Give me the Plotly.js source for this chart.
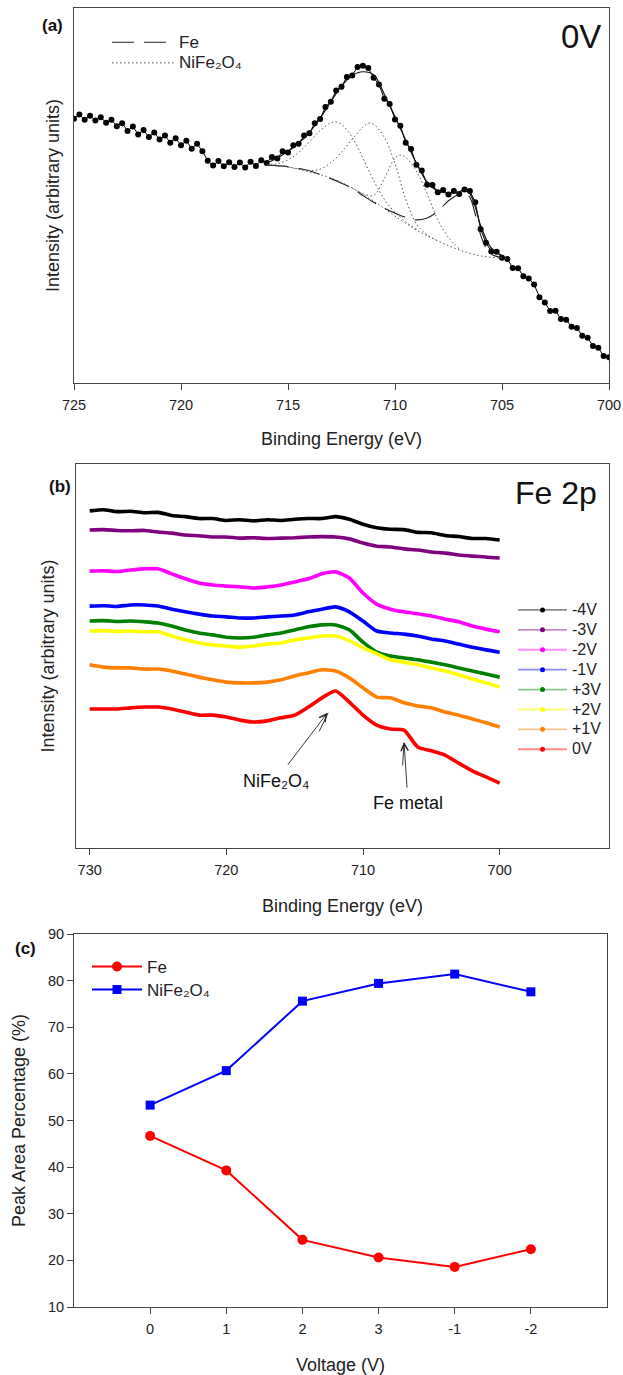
<!DOCTYPE html>
<html><head><meta charset="utf-8">
<script src="https://cdn.plot.ly/plotly-3.0.1.min.js"></script>
<style>html,body{margin:0;padding:0;background:#fff}#chart{width:623px;height:1375px}</style>
</head><body><div id="chart"></div>
<script>
// ---------- Panel (a): Fe 2p at 0V with peak fitting ----------
const energyA = [725,724.75,724.5,724.25,724,723.75,723.5,723.25,723,722.75,722.5,722.25,722,721.75,721.5,721.25,721,720.75,720.5,720.25,720,719.75,719.5,719.25,719,718.75,718.5,718.25,718,717.75,717.5,717.25,717,716.75,716.5,716.25,716,715.75,715.5,715.25,715,714.75,714.5,714.25,714,713.75,713.5,713.25,713,712.75,712.5,712.25,712,711.75,711.5,711.25,711,710.75,710.5,710.25,710,709.75,709.5,709.25,709,708.75,708.5,708.25,708,707.75,707.5,707.25,707,706.75,706.5,706.25,706,705.75,705.5,705.25,705,704.75,704.5,704.25,704,703.75,703.5,703.25,703,702.75,702.5,702.25,702,701.75,701.5,701.25,701,700.75,700.5,700.25,700];
const intensityA = [70.5,71.6,70.2,71.3,70.0,70.9,69.4,70.2,68.5,69.3,
  67.2,68.4,66.3,67.5,65.6,66.8,64.9,66.0,64.1,65.3,
  63.4,64.6,62.5,63.8,61.8,59.3,58.0,59.2,57.8,58.9,
  57.6,58.8,57.5,59.0,57.9,59.4,58.7,60.3,59.9,61.8,
  61.5,63.4,63.8,66.0,66.6,69.3,70.4,73.6,75.0,78.0,
  79.0,81.6,82.0,84.3,84.6,84.0,81.4,79.6,75.8,74.4,
  70.3,68.6,64.1,62.4,58.2,56.7,52.9,52.8,50.9,51.5,
  50.3,51.2,50.4,51.6,51.2,48.2,41.0,37.4,35.1,35.0,
  33.4,33.1,30.7,30.6,28.5,27.9,26.3,22.9,21.5,19.2,
  19.3,17.1,16.9,15.0,14.7,12.6,12.1,9.9,9.4,7.2,
  6.9];
const fitEnergy = [716,715.5,715,714.5,714,713.5,713,712.5,712,711.5,711,710.5,710,709.5,709,708.5,708,707.5,707,706.75,706.5,706.25,706,705.5,705];
const fitEnvelope = [58.7,60.0,61.8,64.0,66.8,70.6,75.0,79.2,82.0,83.0,82.2,77.0,71.0,64.8,58.6,53.6,51.2,50.6,51.0,51.6,50.5,47.0,42.0,36.0,34.0];
const feEnergy = [716,715,714,713,712.5,712,711.5,711,710.5,710,709.5,709,708.5,708,707.5,707,706.75,706.5,706.25,706,705.75,705.5,705];
const feComponent = [58.1,57.7,56.6,54.5,53.3,51.9,50.0,48.2,46.6,45.3,44.2,43.5,44.0,45.8,48.6,50.4,50.8,49.5,45.0,39.5,36.0,34.3,33.4];
const bgEnergy = [716,715,714,713,712,711,710,709,708,707,706,705,704.5];
const background = [58.1,57.6,56.3,54.7,52.0,48.5,44.5,40.8,37.9,35.5,33.9,33.3,33.2];
const niEnergy1 = [716,715.5,715,714.5,714,713.5,713,712.75,712.5,712,711.5,711,710.5,710,709.5,709];
const niPeak1 = [58.1,58.5,59.5,61.5,64.3,67.3,69.4,69.6,69.0,65.5,60.0,54.0,49.0,45.5,43.0,41.0];
const niEnergy2 = [715,714.5,714,713.5,713,712.5,712,711.5,711.25,711,710.5,710,709.5,709,708.5,708];
const niPeak2 = [57.6,57.1,56.7,57.0,58.8,61.5,65.0,68.2,69.3,69.0,65.5,58.5,49.0,42.5,39.5,37.9];
const niEnergy3 = [712,711.5,711,710.5,710,709.75,709.5,709,708.5,708,707.5,707];
const niPeak3 = [52.0,50.5,50.0,54.5,60.0,60.8,60.2,56.5,50.5,43.5,38.8,35.8];
const tickValsA = [725,720,715,710,705,700];

// ---------- Panel (b): Fe 2p spectra vs voltage ----------
const energyB = [730,729,728,727,726,725,724,723,722,721,720,719,718,717,716,715,714,713,712,711,710,709,708,707,706,705,704,703,702,701,700];
const seriesNamesB = ['-4V','-3V','-2V','-1V','+3V','+2V','+1V','0V'];
const intensityM4V = [87.8,88.1,87.6,87.7,87.3,87.4,86.6,86.3,85.8,85.8,85.3,85.5,85.2,85.5,85.3,85.6,85.8,85.8,86.3,85.6,84.3,83.4,83.0,82.9,82.2,82.1,81.4,81.1,80.6,80.6,80.2];
const intensityM3V = [82.8,82.9,82.7,82.6,82.7,82.3,82.0,81.5,81.3,81.0,81.0,80.7,80.8,80.6,80.7,80.8,81.0,81.1,81.0,80.5,79.4,78.6,78.4,77.9,77.6,77.1,76.8,76.3,76.0,75.8,75.5];
const intensityM2V = [72.1,72.2,72.0,72.4,72.7,72.7,71.4,70.1,69.0,68.5,68.2,68.0,67.7,68.0,68.5,69.3,70.1,71.4,71.9,70.3,66.4,63.5,62.2,61.5,61.0,60.4,59.6,58.9,57.8,57.0,56.3];
const intensityM1V = [63.0,63.1,62.9,63.3,63.3,63.0,62.2,61.5,60.9,60.4,60.2,59.9,59.9,60.2,60.4,60.7,61.5,62.2,62.8,61.5,59.1,56.5,56.0,55.7,55.2,54.4,53.9,53.1,52.3,51.6,51.0];
const intensityP3V = [59.1,59.2,59.0,59.1,58.9,58.6,57.8,56.8,56.0,55.5,54.9,54.7,54.9,55.5,56.0,56.8,57.6,58.1,58.1,56.8,53.6,51.0,50.0,49.5,49.0,48.4,47.7,46.9,46.1,45.3,44.5];
const intensityP2V = [56.5,56.6,56.4,56.5,56.3,56.3,55.2,54.2,53.4,52.9,52.6,52.3,52.6,53.1,53.4,54.2,54.7,55.2,55.2,54.0,52.1,50.6,49.0,48.4,47.7,46.9,46.1,45.1,44.0,43.0,41.9];
const intensityP1V = [47.7,47.1,46.9,46.9,46.6,46.6,46.1,45.3,44.5,43.8,43.2,43.0,43.0,43.2,43.8,44.8,45.6,46.4,46.1,44.3,41.7,39.3,39.1,37.8,37.0,36.5,35.4,34.6,33.6,32.6,31.5];
const intensity0V = [36.2,36.2,36.2,36.5,36.7,36.7,36.2,35.4,34.6,34.6,34.1,33.3,32.8,33.1,33.9,34.6,36.7,39.1,40.9,38.0,34.6,32.0,31.0,30.7,26.3,25.3,24.2,22.1,20.1,18.5,16.9];
const tickValsB = [730,720,710,700];

// ---------- Panel (c): peak area percentage ----------
const voltageLabels = ['0','1','2','3','-1','-2'];
const feArea = [46.7,39.3,24.4,20.6,18.6,22.4];
const nife2o4Area = [53.3,60.7,75.6,79.4,81.4,77.6];

// ---------- styling ----------
const FONT = 'Liberation Sans, Arial, sans-serif';
const AX = '#444';
const W = 623, H = 1375;
const px = v => v / W;
const py = v => 1 - v / H;
const big = (t, s) => '<span style="font-size:' + s + 'px">' + t + '</span>';
const NIFE = 'NiFe\u2082O\u2084';

const seriesB = [intensityM4V, intensityM3V, intensityM2V, intensityM1V, intensityP3V, intensityP2V, intensityP1V, intensity0V];
const colorsB = ['#000000','#800080','#ff00ff','#0000ff','#008000','#ffff00','#ff8000','#ff0000'];
const paleB = ['rgba(0,0,0,0.45)','rgba(128,0,128,0.45)','rgba(255,0,255,0.45)','rgba(0,0,255,0.45)','rgba(0,128,0,0.45)','rgba(255,255,0,0.6)','rgba(255,128,0,0.45)','rgba(255,0,0,0.45)'];

const traces = [];
// (a)
traces.push({x: energyA, y: intensityA, xaxis:'x', yaxis:'y', mode:'lines+markers', showlegend:false,
  line:{color:'#000', width:1}, marker:{color:'#000', size:6}, hoverinfo:'skip'});
traces.push({x: fitEnergy, y: fitEnvelope, xaxis:'x', yaxis:'y', mode:'lines', showlegend:false,
  line:{color:'#111', width:1.2, shape:'spline'}});
traces.push({x: feEnergy, y: feComponent, xaxis:'x', yaxis:'y', mode:'lines', name:big('Fe',17), legend:'legend',
  line:{color:'#222', width:1.1, dash:'22px,10px', shape:'spline'}});
traces.push({x: niEnergy1, y: niPeak1, xaxis:'x', yaxis:'y', mode:'lines', name:big(NIFE,17), legend:'legend', legendgroup:'ni',
  line:{color:'#555', width:1, dash:'1.5px,2.5px', shape:'spline'}});
traces.push({x: niEnergy2, y: niPeak2, xaxis:'x', yaxis:'y', mode:'lines', showlegend:false, legendgroup:'ni',
  line:{color:'#555', width:1, dash:'1.5px,2.5px', shape:'spline'}});
traces.push({x: niEnergy3, y: niPeak3, xaxis:'x', yaxis:'y', mode:'lines', showlegend:false, legendgroup:'ni',
  line:{color:'#555', width:1, dash:'1.5px,2.5px', shape:'spline'}});
traces.push({x: bgEnergy, y: background, xaxis:'x', yaxis:'y', mode:'lines', showlegend:false, legendgroup:'ni',
  line:{color:'#555', width:1, dash:'1.5px,2.5px', shape:'spline'}});
// (b)
seriesB.forEach((s, i) => {
  traces.push({x: energyB, y: s, xaxis:'x2', yaxis:'y2', mode:'lines', showlegend:false,
    line:{color: colorsB[i], width:3.6, shape:'spline', smoothing:0.6}});
});
seriesNamesB.forEach((n, i) => {
  traces.push({x:[null], y:[null], xaxis:'x2', yaxis:'y2', mode:'lines+markers', name:big(n,16), legend:'legend2',
    line:{color: paleB[i], width:1.8}, marker:{color: colorsB[i], size:5}});
});
// (c)
traces.push({x: voltageLabels, y: feArea, xaxis:'x3', yaxis:'y3', mode:'lines+markers', name:big('Fe',17), legend:'legend3',
  line:{color:'#ff0000', width:2}, marker:{color:'#ff0000', size:10, symbol:'circle'}});
traces.push({x: voltageLabels, y: nife2o4Area, xaxis:'x3', yaxis:'y3', mode:'lines+markers', name:big(NIFE,17), legend:'legend3',
  line:{color:'#0000ff', width:2}, marker:{color:'#0000ff', size:9, symbol:'square'}});

const axBase = {showline:true, linecolor:AX, linewidth:1, mirror:true, showgrid:false, zeroline:false};
const layout = {
  width: W, height: H, margin:{l:0, r:0, t:0, b:0},
  paper_bgcolor:'#fff', plot_bgcolor:'#fff',
  font:{family:FONT, size:14, color:'#222'},
  xaxis: Object.assign({}, axBase, {domain:[px(74), px(609)], anchor:'y', range:[725,700], tickvals:tickValsA,
    ticks:'outside', ticklen:6, tickcolor:AX, tickfont:{size:14.5}, ticklabelstandoff:3,
    title:{text:'Binding Energy (eV)', font:{size:18}, standoff:19}}),
  yaxis: Object.assign({}, axBase, {domain:[py(383), py(8)], anchor:'x', range:[0,100], showticklabels:false, ticks:'',
    title:{text:'Intensity (arbitrary units)', font:{size:18}, standoff:8}}),
  xaxis2: Object.assign({}, axBase, {domain:[px(76), px(609)], anchor:'y2', range:[731,692], tickvals:tickValsB,
    ticks:'outside', ticklen:6, tickcolor:AX, tickfont:{size:14.5}, ticklabelstandoff:3,
    title:{text:'Binding Energy (eV)', font:{size:18}, standoff:21}}),
  yaxis2: Object.assign({}, axBase, {domain:[py(848), py(464)], anchor:'x2', range:[0,100], showticklabels:false, ticks:'',
    title:{text:'Intensity (arbitrary units)', font:{size:18}, standoff:15}}),
  xaxis3: Object.assign({}, axBase, {domain:[px(74), px(607)], anchor:'y3', type:'category', categoryorder:'array', categoryarray:voltageLabels,
    range:[-1,6], ticks:'outside', ticklen:6, tickcolor:AX, tickfont:{size:14.5}, ticklabelstandoff:3,
    title:{text:'Voltage (V)', font:{size:18}, standoff:21}}),
  yaxis3: Object.assign({}, axBase, {domain:[py(1307), py(934)], anchor:'x3', range:[10,90], dtick:10,
    ticks:'outside', ticklen:6, tickcolor:AX, tickfont:{size:14.5},
    title:{text:'Peak Area Percentage (%)', font:{size:18}, standoff:17}}),
  legend: {x:px(107), y:py(27), xanchor:'left', yanchor:'top', font:{size:13.5}, bgcolor:'rgba(0,0,0,0)', itemwidth:62, tracegroupgap:0},
  legend2: {x:px(513), y:py(595), xanchor:'left', yanchor:'top', font:{size:13}, bgcolor:'rgba(0,0,0,0)', itemwidth:49},
  legend3: {x:px(87), y:py(950), xanchor:'left', yanchor:'top', font:{size:15.4}, bgcolor:'rgba(0,0,0,0)', itemwidth:50},
  shapes: [
    {type:'line', xref:'x2', yref:'y2', x0:713.2, y0:30.4, x1:712.55, y1:35.2, line:{color:'#222', width:0.9}},
    {type:'line', xref:'x2', yref:'y2', x0:707.1, y0:21.5, x1:707.0, y1:27.4, line:{color:'#222', width:0.9}}
  ],
  annotations: [
    {xref:'paper', yref:'paper', x:px(52), y:py(26), xanchor:'center', yanchor:'middle', text:'<b>(a)</b>', showarrow:false, font:{size:17, color:'#111'}},
    {xref:'paper', yref:'paper', x:px(60), y:py(487), xanchor:'center', yanchor:'middle', text:'<b>(b)</b>', showarrow:false, font:{size:17, color:'#111'}},
    {xref:'paper', yref:'paper', x:px(25), y:py(948), xanchor:'center', yanchor:'middle', text:'<b>(c)</b>', showarrow:false, font:{size:17, color:'#111'}},
    {xref:'paper', yref:'paper', x:px(603), y:py(36), xanchor:'right', yanchor:'middle', text:'0V', showarrow:false, font:{size:33, color:'#111'}},
    {xref:'paper', yref:'paper', x:px(599), y:py(493), xanchor:'right', yanchor:'middle', text:'Fe 2p', showarrow:false, font:{size:32, color:'#111'}},
    {xref:'x2', yref:'y2', axref:'x2', ayref:'y2', x:712.6, y:35.2, ax:716.4, ay:17.5, text:NIFE,
      showarrow:true, arrowhead:5, arrowsize:1.6, arrowwidth:0.9, arrowcolor:'#222', startstandoff:6, font:{size:18, color:'#111'}},
    {xref:'x2', yref:'y2', axref:'x2', ayref:'y2', x:707.0, y:27.6, ax:706.7, ay:11.7, text:'Fe metal',
      showarrow:true, arrowhead:5, arrowsize:1.6, arrowwidth:0.9, arrowcolor:'#222', startstandoff:4, font:{size:18, color:'#111'}}
  ]
};
Plotly.newPlot('chart', traces, layout, {displayModeBar:false, staticPlot:true});
</script>
</body></html>
